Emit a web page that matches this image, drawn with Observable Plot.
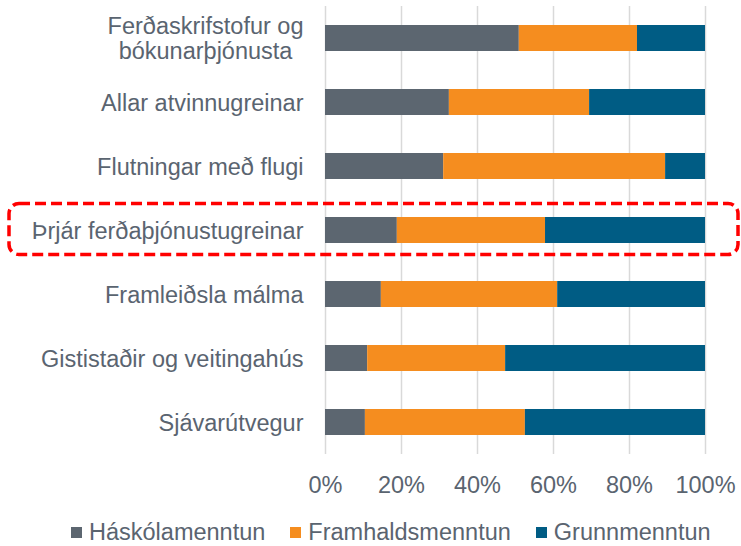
<!DOCTYPE html>
<html>
<head>
<meta charset="utf-8">
<script src="https://cdn.jsdelivr.net/npm/d3@7"></script>
<script src="https://cdn.jsdelivr.net/npm/@observablehq/plot@0.6"></script>
<style>
  body { margin: 0; background: #fff; }
  #chart { width: 741px; }
  .legend { display: flex; align-items: center; height: 36px; padding-left: 71px;
    font-family: "Liberation Sans", Arial, sans-serif; font-size: 23.5px; color: #5a6470; }
  .legend .item { display: flex; align-items: center; margin-right: 25px; }
  .legend .sw { width: 11px; height: 11px; margin-right: 7px; }
</style>
</head>
<body>
<div id="chart"></div>
<script>
const categories = [
  "Ferðaskrifstofur og\nbókunarþjónusta",
  "Allar atvinnugreinar",
  "Flutningar með flugi",
  "Þrjár ferðaþjónustugreinar",
  "Framleiðsla málma",
  "Gististaðir og veitingahús",
  "Sjávarútvegur"
];
const seriesNames = ["Háskólamenntun", "Framhaldsmenntun", "Grunnmenntun"];
const seriesColors = ["#5c6670", "#f58d1f", "#005c84"];
const haskola = [51.0, 32.6, 31.1, 18.9, 14.7, 11.1, 10.5];
const framhalds = [31.1, 36.9, 58.4, 39.0, 46.4, 36.3, 42.1];
const grunn = [17.9, 30.5, 10.5, 42.1, 38.9, 52.6, 47.4];
const xTicks = [0, 20, 40, 60, 80, 100];
const highlighted = "Þrjár ferðaþjónustugreinar";

const seriesValues = [haskola, framhalds, grunn];
const rows = [];
categories.forEach((c, i) => {
  seriesNames.forEach((s, j) => rows.push({category: c, series: s, value: seriesValues[j][i]}));
});

const highlightMark = (index, scales, values, dimensions) => {
  const y0 = scales.y(highlighted);
  const bw = scales.y.bandwidth ? scales.y.bandwidth() : 0;
  const cy = y0 + bw / 2;
  const g = document.createElementNS("http://www.w3.org/2000/svg", "g");
  const r = document.createElementNS("http://www.w3.org/2000/svg", "rect");
  r.setAttribute("x", 9);
  r.setAttribute("y", cy - 26.5);
  r.setAttribute("width", dimensions.width - 12);
  r.setAttribute("height", 51);
  r.setAttribute("rx", 10);
  r.setAttribute("fill", "none");
  r.setAttribute("stroke", "#ff0000");
  r.setAttribute("stroke-width", 3.5);
  r.setAttribute("stroke-dasharray", "11,5");
  g.appendChild(r);
  return g;
};

const plot = Plot.plot({
  width: 741,
  height: 514,
  marginLeft: 325,
  marginRight: 36,
  marginTop: 6,
  marginBottom: 60,
  style: {fontFamily: "'Liberation Sans', Arial, sans-serif", fontSize: "23.5px", color: "#5a6470", background: "#fff"},
  x: {domain: [0, 100]},
  y: {domain: categories, paddingInner: 0.594, paddingOuter: 0.297},
  color: {domain: seriesNames, range: seriesColors},
  marks: [
    Plot.ruleX(xTicks, {stroke: "#d9d9d9", strokeWidth: 1.5, strokeOpacity: 1}),
    Plot.barX(rows, Plot.stackX({x: "value", y: "category", fill: "series", order: seriesNames})),
    Plot.axisX({ticks: xTicks, tickFormat: d => d + "%", tickSize: 0, tickPadding: 22, label: null}),
    Plot.axisY({tickSize: 0, tickPadding: 22, label: null, lineHeight: 1.08}),
    highlightMark
  ]
});
document.getElementById("chart").appendChild(plot);

// center the lines of multi-line category labels (as in the reference)
plot.querySelectorAll("text").forEach(t => {
  const spans = t.querySelectorAll("tspan");
  if (spans.length > 1) {
    let w = 0;
    spans.forEach(s => { w = Math.max(w, s.getComputedTextLength()); });
    t.setAttribute("text-anchor", "middle");
    spans.forEach(s => { if (s.hasAttribute("x")) s.setAttribute("x", +s.getAttribute("x") - w / 2); });
    if (!spans[0].hasAttribute("x")) {
      const prev = t.getAttribute("transform") || "";
      t.setAttribute("transform", prev + ` translate(${-w / 2},0)`);
    }
  }
});

const legend = document.createElement("div");
legend.className = "legend";
seriesNames.forEach((s, i) => {
  const item = document.createElement("div");
  item.className = "item";
  const sw = document.createElement("span");
  sw.className = "sw";
  sw.style.background = seriesColors[i];
  const t = document.createElement("span");
  t.textContent = s;
  item.appendChild(sw); item.appendChild(t);
  legend.appendChild(item);
});
document.getElementById("chart").appendChild(legend);
</script>
</body>
</html>
